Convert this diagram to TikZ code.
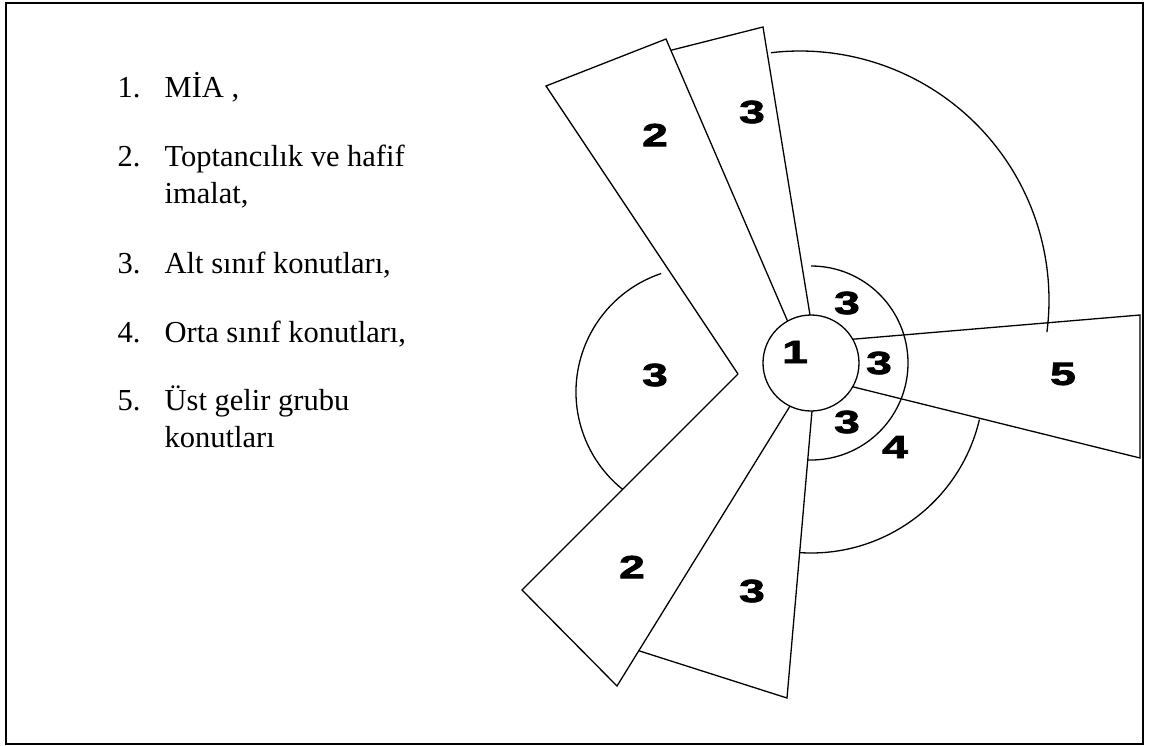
\documentclass[tikz,border=0pt]{standalone}
\usepackage{fontspec}
\setmainfont{Liberation Serif}
\newfontfamily\digfont[FakeStretch=1.45,FakeBold=2.5]{Liberation Sans}
\usetikzlibrary{calc}
\begin{document}
\begin{tikzpicture}[x=1pt,y=-1pt,line width=1.3pt,line join=miter,
  listitem/.style={anchor=base west,inner sep=0pt,font=\fontsize{30.5}{37}\selectfont},
  digit/.style={inner sep=0pt,font=\digfont\bfseries\fontsize{32}{32}\selectfont},
  ring/.style={line width=1.3pt}]
\useasboundingbox (0,0) rectangle (1152,745);
\draw[line width=2.2pt] (6,3) rectangle (1143,744);

% legend
\node[listitem] (n1) at (117,97) {1.};
\node[listitem] (t1) at (164,97) {MİA ,};
\node[listitem] (n2) at (117,166) {2.};
\node[listitem] (t2a) at (164,166) {Toptancılık ve hafif};
\node[listitem] (t2b) at (164,203) {imalat,};
\node[listitem] (n3) at (117,273) {3.};
\node[listitem] (t3) at (164,273) {Alt sınıf konutları,};
\node[listitem] (n4) at (117,342) {4.};
\node[listitem] (t4) at (164,342) {Orta sınıf konutları,};
\node[listitem] (n5) at (117,410) {5.};
\node[listitem] (t5a) at (164,410) {Üst gelir grubu};
\node[listitem] (t5b) at (164,447) {konutları};

% centre
\coordinate (c) at (811,363);
\node[draw,circle,minimum size=96pt,inner sep=0pt] (mia) at (c) {};

% upper-left wedge (2)
\coordinate (tip) at (738,374);
\coordinate (a1) at (546,86);
\coordinate (a2) at (666,39);
\coordinate (a3) at ($(c)+(-119.2:48)$);
\draw (tip) -- (a1) -- (a2) -- (a3);
% upper wedge (3)
\coordinate (b1) at ($(a2)!0.04!(a3)$);
\coordinate (b2) at (763,27);
\coordinate (b3) at ($(c)+(-91.2:48)$);
\draw (b1) -- (b2) -- (b3);
% right wedge (5)
\coordinate (e1) at ($(c)+(-29.7:48)$);
\coordinate (e2) at (1140,315);
\coordinate (e3) at (1140,458);
\coordinate (e4) at ($(c)+(29.7:48)$);
\draw (e1) -- (e2) -- (e3) -- (e4);
% lower-left wedge (2)
\coordinate (f1) at (522,590);
\coordinate (f2) at (617,686);
\coordinate (f3) at ($(c)+(116:48)$);
\draw (tip) -- (f1) -- (f2) -- (f3);
% lower wedge (3)
\coordinate (g1) at ($(f2)!0.126!(f3)$);
\coordinate (g2) at (787,698);
\coordinate (g3) at ($(c)+(88.8:48)$);
\draw (g1) -- (g2) -- (g3);

% arcs
\draw[ring] ($(800,300)+(-96.7:249)$) arc[start angle=-96.7,end angle=7.4,radius=249];
\draw[ring] ($(c)+(-90:97)$) arc[start angle=-90,end angle=92,radius=97];
\draw[ring] ($(811,380)+(13.2:173)$) arc[start angle=13.2,end angle=93.7,radius=173];
\draw[ring] ($(701,392)+(251.4:125)$) arc[start angle=251.4,end angle=128.8,radius=125];

% labels
\node[digit] (l1) at (795,352) {1};
\node[digit] (l2u) at (655,135) {2};
\node[digit] (l3u) at (752,112) {3};
\node[digit] (l3l) at (655,375) {3};
\node[digit] (l3ra) at (847,303) {3};
\node[digit] (l3rb) at (879,363) {3};
\node[digit] (l3rc) at (847,422) {3};
\node[digit] (l4) at (895,447) {4};
\node[digit] (l5) at (1063,374) {5};
\node[digit] (l2d) at (632,567) {2};
\node[digit] (l3d) at (752,591) {3};
\end{tikzpicture}
\end{document}
